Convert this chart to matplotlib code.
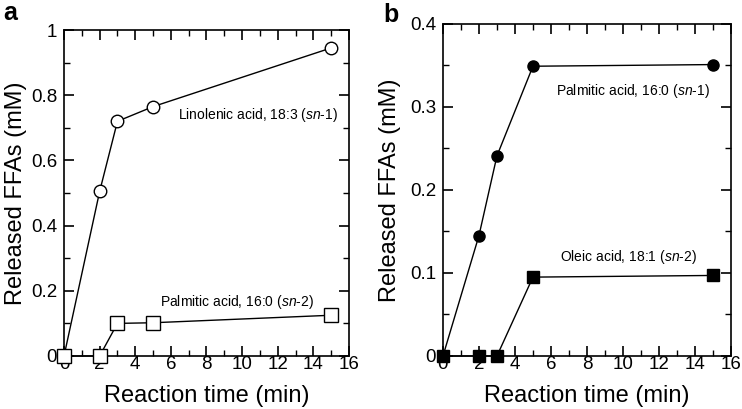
import matplotlib
matplotlib.use("Agg")
import matplotlib.pyplot as plt
from matplotlib.ticker import MultipleLocator

plt.rcParams['font.family'] = ['Liberation Sans', 'DejaVu Sans']
plt.rcParams['mathtext.fontset'] = 'custom'
plt.rcParams['mathtext.it'] = 'Liberation Sans:italic'
plt.rcParams['mathtext.rm'] = 'Liberation Sans'

# panel a
time_a = [0, 2, 3, 5, 15]
linolenic_sn1 = [0, 0.505, 0.72, 0.765, 0.945]
palmitic_sn2 = [0, 0, 0.1, 0.102, 0.125]

# panel b
time_b = [0, 2, 3, 5, 15]
palmitic_sn1 = [0, 0.145, 0.241, 0.349, 0.351]
oleic_sn2 = [0, 0, 0, 0.095, 0.097]

fig = plt.figure(figsize=(7.42, 4.09), dpi=100)
axa = fig.add_axes([0.0863, 0.1296, 0.384, 0.797])
axb = fig.add_axes([0.597, 0.1296, 0.388, 0.812])


def fmt(v):
    v = round(v, 2)
    if v == 0:
        return '0'
    if v == 1:
        return '1'
    return '%g' % v


def style(ax, ymax, ymaj, ymin):
    ax.set_xlim(0, 16)
    ax.set_ylim(0, ymax)
    ax.xaxis.set_major_locator(MultipleLocator(2))
    ax.xaxis.set_minor_locator(MultipleLocator(1))
    ax.yaxis.set_major_locator(MultipleLocator(ymaj))
    ax.yaxis.set_minor_locator(MultipleLocator(ymin))
    ax.tick_params(which='both', direction='in', top=True, right=True, labelsize=13.5)
    ax.tick_params(which='major', length=7, width=1.2)
    ax.tick_params(which='minor', length=4, width=1.0)
    ax.tick_params(axis='x', which='major', pad=0)
    ax.tick_params(axis='y', which='major', pad=5)
    ax.set_yticks(ax.get_yticks())
    ax.set_yticklabels([fmt(v) for v in ax.get_yticks()])
    ax.set_ylim(0, ymax)
    for s in ax.spines.values():
        s.set_linewidth(1.2)
    ax.set_xlabel('Reaction time (min)', fontsize=17, labelpad=9)


style(axa, 1, 0.2, 0.1)
style(axb, 0.4, 0.1, 0.05)
axa.set_ylabel('Released FFAs (mM)', fontsize=17, labelpad=3)
axb.set_ylabel('Released FFAs (mM)', fontsize=17, labelpad=6)

axa.plot(time_a, linolenic_sn1, marker='o', markerfacecolor='white', markersize=9, markeredgewidth=1.0,
         color='black', linewidth=1.0, clip_on=False, zorder=3)
axa.plot(time_a, palmitic_sn2, marker='s', markerfacecolor='white', markersize=10, markeredgewidth=1.0,
         color='black', linewidth=1.0, clip_on=False, zorder=3)
axb.plot(time_b, palmitic_sn1, marker='o', markerfacecolor='black', markersize=8, color='black',
         linewidth=1.0, clip_on=False, zorder=3)
axb.plot(time_b, oleic_sn2, marker='s', markerfacecolor='black', markersize=8.5, color='black',
         linewidth=1.0, clip_on=False, zorder=3)

axa.text(10.9, 0.74, r'Linolenic acid, 18:3 ($\it{sn}$-1)', ha='center', va='center', fontsize=10)
axa.text(9.7, 0.166, r'Palmitic acid, 16:0 ($\it{sn}$-2)', ha='center', va='center', fontsize=10)
axb.text(10.55, 0.319, r'Palmitic acid, 16:0 ($\it{sn}$-1)', ha='center', va='center', fontsize=10)
axb.text(10.3, 0.119, r'Oleic acid, 18:1 ($\it{sn}$-2)', ha='center', va='center', fontsize=10)

fig.text(0.004, 0.951, 'a', fontsize=18, fontweight='bold', va='baseline')
fig.text(0.516, 0.945, 'b', fontsize=18, fontweight='bold', va='baseline')

fig.savefig('out.png', dpi=100)
